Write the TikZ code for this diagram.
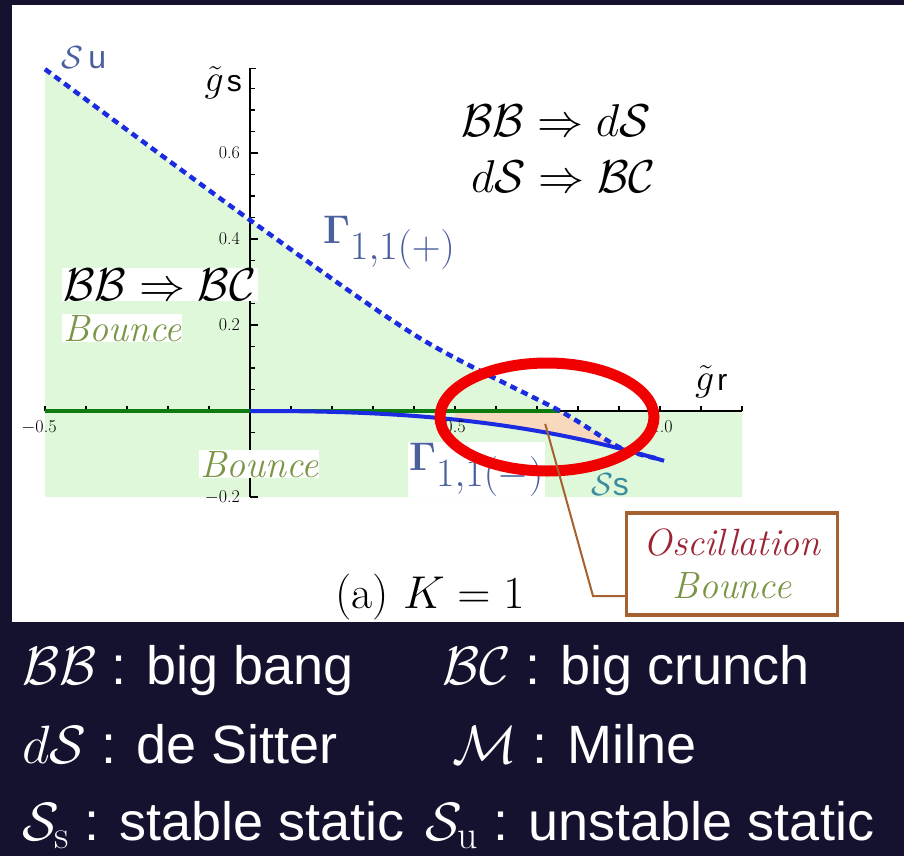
\RequirePackage{fix-cm}
\documentclass[tikz,border=0pt]{standalone}
\usepackage[no-math]{fontspec}
\usepackage{tikz}
\usetikzlibrary{positioning,calc}
\newfontfamily\legendfont{Liberation Sans}
\definecolor{navybg}{HTML}{15122F}
\definecolor{mintfill}{HTML}{DFF8D9}
\definecolor{peachfill}{HTML}{F9D9BE}
\definecolor{curveblue}{HTML}{1A2BE0}
\definecolor{labelblue}{HTML}{4A5F9E}
\definecolor{tealgray}{HTML}{3A8B9B}
\definecolor{olive}{HTML}{7A9645}
\definecolor{oscred}{HTML}{9C2436}
\definecolor{boxbrown}{HTML}{A5612F}
\definecolor{axisgreen}{HTML}{0F7A0F}
\definecolor{ringred}{HTML}{F00000}
\newcommand{\legsub}[1]{\hbox{\rmfamily\fontsize{40}{40}\selectfont #1}}
\tikzset{
  axisline/.style={draw=black,line width=1.2pt},
  gdash/.style={draw=curveblue,line width=4.5pt,dash pattern=on 7pt off 5pt},
  gsolid/.style={draw=curveblue,line width=4pt},
  lbl/.style={inner sep=1pt,anchor=base west},
  wlbl/.style={lbl,fill=white},
  bounce/.style={wlbl,text=olive,font=\fontsize{38}{43}\selectfont\itshape},
  legend/.style={anchor=base west,inner sep=0pt,text=white,
    font=\legendfont\fontsize{54}{60}\selectfont},
}
\begin{document}
\begin{tikzpicture}[x=1pt,y=-1pt,
  ticklbl/.style={font=\fontsize{18}{20}\selectfont,inner sep=1pt},
  scriptlbl/.style={lbl,font=\fontsize{46}{52}\selectfont},
  gamlbl/.style={lbl,text=labelblue,font=\fontsize{40}{46}\selectfont},
  oscbox/.style={draw=boxbrown,line width=3.5pt,fill=white,minimum width=211pt,
    minimum height=102pt,align=center,font=\fontsize{38}{43}\selectfont\itshape},
  lead/.style={draw=boxbrown,line width=2pt},
  ring/.style={draw=ringred,line width=11pt},
]
\useasboundingbox (0,0) rectangle (904,856);
\fill[navybg] (0,0) rectangle (904,856);
\fill[white] (12,5) rectangle (904,622);

% PLOT (data units)
\begin{scope}[shift={(250,411)},x=410pt,y=430pt]
  % regions
  \fill[mintfill] (-0.5,-0.2) -- plot[smooth] coordinates
    {(-0.5,0.795) (0,0.444) (0.41,0.172) (0.756,0)} -- (1.2,0) -- (1.2,-0.2) -- cycle;
  \fill[peachfill] (0.5,0) -- (0.756,0) -- (0.9,-0.084)
    -- plot[domain=0.9:0.5,samples=20] (\x,{-0.113*\x*\x*sqrt(\x)}) -- cycle;
  % axes
  \draw[axisline] (-0.5,0) -- (1.2,0);
  \draw[axisline] (0,-0.2) -- (0,0.797);
  \foreach \i in {-5,...,12} \draw[axisline] (\i/10,0) -- ++(0,5pt);
  \foreach \j in {-4,...,15} \draw[axisline] (0,\j/20) -- ++(5pt,0);
  \foreach \j in {-1,1,2,3} \draw[axisline] (0,\j/5) -- ++(8pt,0);
  \draw[axisline] (0,0.797) -- ++(6pt,0);
  \draw[draw=axisgreen,line width=3.5pt] (-0.5,0) -- (0.756,0);
  % curves
  \draw[gsolid] plot[domain=0:1.01,samples=40] (\x,{-0.113*\x*\x*sqrt(\x)});
  \draw[gdash] plot[smooth] coordinates
    {(-0.5,0.795) (0,0.444) (0.41,0.172) (0.756,0) (0.9,-0.084) (1.0,-0.112)};
  % tick labels
  \node[ticklbl,anchor=east] (y06) at ($(0,0.6)+(-9pt,0)$) {0.6};
  \node[ticklbl,anchor=east] (y04) at ($(0,0.4)+(-9pt,0)$) {0.4};
  \node[ticklbl,anchor=east] (y02) at ($(0,0.2)+(-9pt,0)$) {0.2};
  \node[ticklbl,anchor=east] (ym02) at ($(0,-0.2)+(-9pt,0)$) {$-$0.2};
  \node[ticklbl,anchor=north] (xm05) at ($(-0.5,0)+(-6pt,-8pt)$) {$-$0.5};
  \node[ticklbl,anchor=north] (x05) at ($(0.5,0)+(0,-8pt)$) {0.5};
  \node[ticklbl,anchor=north] (x10) at ($(1.0,0)+(2pt,-8pt)$) {1.0};
  \coordinate (osc) at (0.72,-0.03);
\end{scope}

% axis names and curve labels
\node[lbl,text=labelblue,font=\fontsize{32}{36}\selectfont] (su) at (60,69)
  {$\mathcal{S}$\,{\legendfont u}};
\node[lbl,anchor=base east,font=\fontsize{30}{34}\selectfont] (gs) at (243,92)
  {{\fontsize{38}{40}\selectfont$\tilde{g}$}\kern3pt{\legendfont s}};
\node[lbl,font=\fontsize{30}{34}\selectfont] (gr) at (694,390)
  {{\fontsize{38}{40}\selectfont$\tilde{g}$}\kern3pt{\legendfont r}};
\node[gamlbl] (gplus) at (322,243) {$\mathbf{\Gamma}_{\textstyle 1{,}1(+)}$};
\node[gamlbl,fill=white] (gminus) at (408,470) {$\mathbf{\Gamma}_{\textstyle 1{,}1(-)}$};
\node[lbl,text=tealgray,font=\fontsize{32}{36}\selectfont] (ss) at (590,495)
  {$\mathcal{S}${\legendfont s}};

% region labels
\node[scriptlbl] (bbds) at (460,136) {$\mathcal{BB}\Rightarrow d\mathcal{S}$};
\node[scriptlbl] (dsbc) at (470,192) {$d\mathcal{S}\Rightarrow\mathcal{BC}$};
\node[scriptlbl,fill=white] (bbbc) at (62,300) {$\mathcal{BB}\Rightarrow\mathcal{BC}$};
\node[bounce] (bnup) at (62,341) {Bounce};
\node[bounce] (bnlo) at (199,477) {Bounce};

% highlight
\draw[ring] (547,417) ellipse [x radius=107pt, y radius=54pt];

% OSCILLATION box
\node[oscbox] (oscb) at (732,564)
  {\textcolor{oscred}{Oscillation}\\\textcolor{olive}{Bounce}};
\coordinate (bend) at (593,596);
\draw[lead] (osc) -- (bend) -- (bend -| oscb.west);

\node[anchor=base,inner sep=0pt,font=\fontsize{46}{52}\selectfont] (cap) at (430,608)
  {(a) $K=1$};

% LEGEND
\node[legend] (lbb) at (22,684) {$\mathcal{BB}$ : big bang};
\node[legend] (lbc) at (442,684) {$\mathcal{BC}$ : big crunch};
\node[legend] (lds) at (22,763) {$d\mathcal{S}$ : de Sitter};
\node[legend] (lml) at (452,763) {$\mathcal{M}$ : Milne};
\node[legend] (lss) at (22,840) {$\mathcal{S}_{\legsub{s}}$ : stable static};
\node[legend] (lsu) at (425,840) {$\mathcal{S}_{\legsub{u}}$ : unstable static};
\end{tikzpicture}
\end{document}
